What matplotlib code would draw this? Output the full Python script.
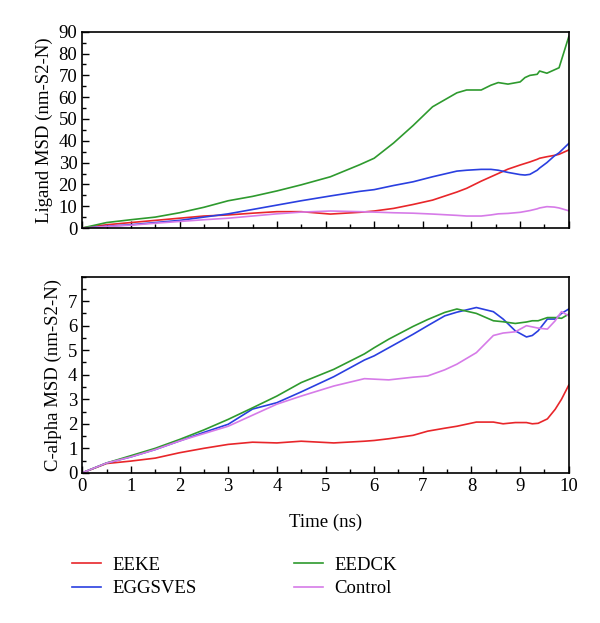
import matplotlib.pyplot as plt
from matplotlib.ticker import MultipleLocator

plt.rcParams['font.family'] = ['Liberation Serif', 'DejaVu Serif']

# Time points (ns)
t_top = [0, 0.5, 1, 1.5, 2, 2.5, 3, 3.5, 4, 4.5, 5.1, 5.7, 6.0, 6.4, 6.8, 7.2, 7.7, 7.9, 8.2, 8.4,
         8.55, 8.75, 9.0, 9.1, 9.2, 9.35, 9.4, 9.55, 9.7, 9.8, 10]

# Ligand MSD
lig_eeke = [0, 1.5, 2.5, 3.5, 4.5, 5.5, 6.0, 6.8, 7.5, 7.5, 6.4, 7.2, 7.8, 9.0, 10.8, 12.8, 16.5, 18.2, 21.5, 23.5,
            25, 27, 28.9, 29.6, 30.3, 31.5, 32, 32.7, 33.3, 33.8, 35.8]
lig_eggsves = [0, 0.8, 1.5, 2.5, 3.5, 5, 6.5, 8.5, 10.5, 12.5, 14.7, 16.8, 17.6, 19.5, 21.2, 23.5, 26.1, 26.5, 26.9, 26.9,
               26.5, 25.5, 24.5, 24.3, 24.6, 26.5, 27.5, 30, 33, 34.5, 38.8]
lig_eedck = [0, 2.5, 3.8, 5, 7, 9.5, 12.5, 14.5, 17, 19.8, 23.5, 29, 32, 39, 47, 55.6, 62, 63.3, 63.3, 65.5,
             66.7, 66, 67, 69, 70, 70.5, 72, 71, 72.5, 73.5, 87.8]
lig_control = [0, 0.7, 1.3, 2.2, 3, 3.8, 4.5, 5.5, 6.5, 7.3, 7.8, 7.5, 7.3, 7.0, 6.8, 6.4, 5.8, 5.5, 5.5, 6,
               6.5, 6.7, 7.2, 7.6, 8, 8.8, 9.2, 9.8, 9.6, 9.2, 7.9]

t_bot = [0, 0.5, 1, 1.5, 2, 2.5, 3, 3.5, 4, 4.5, 5.17, 5.8, 6.0, 6.3, 6.8, 7.1, 7.45, 7.7, 8.1, 8.45,
         8.65, 8.9, 9.13, 9.25, 9.37, 9.56, 9.72, 9.85, 10]

# C-alpha MSD
ca_eeke = [0, 0.38, 0.48, 0.6, 0.82, 1.0, 1.16, 1.25, 1.22, 1.29, 1.22, 1.29, 1.32, 1.39, 1.53, 1.7, 1.82, 1.9, 2.07, 2.07,
           2.0, 2.05, 2.05, 2.0, 2.02, 2.2, 2.59, 3.0, 3.58]
ca_eggsves = [0, 0.4, 0.65, 0.95, 1.3, 1.65, 1.98, 2.6, 2.86, 3.3, 3.92, 4.6, 4.77, 5.1, 5.65, 6.0, 6.4, 6.55, 6.74, 6.57,
              6.27, 5.79, 5.54, 5.6, 5.79, 6.27, 6.27, 6.5, 6.68]
ca_eedck = [0, 0.4, 0.7, 1.0, 1.36, 1.75, 2.18, 2.65, 3.13, 3.68, 4.22, 4.85, 5.1, 5.45, 5.97, 6.25, 6.54, 6.68, 6.5, 6.2,
            6.16, 6.09, 6.15, 6.2, 6.2, 6.33, 6.33, 6.3, 6.47]
ca_control = [0, 0.4, 0.65, 0.95, 1.3, 1.6, 1.9, 2.35, 2.8, 3.13, 3.54, 3.84, 3.82, 3.79, 3.9, 3.95, 4.2, 4.43, 4.9, 5.6,
              5.7, 5.75, 6.0, 5.95, 5.9, 5.86, 6.2, 6.57, 6.4]

labels = ['EEKE', 'EGGSVES', 'EEDCK', 'Control']
colors = ['#e8262a', '#2a3fe0', '#2e9a2e', '#d67be8']

fig = plt.figure(figsize=(6, 6.23), dpi=100)
ax1 = fig.add_axes([0.137, 0.634, 0.811, 0.315])
ax2 = fig.add_axes([0.137, 0.241, 0.811, 0.315])

lines = []
for ys, c, lab in zip([lig_eeke, lig_eggsves, lig_eedck, lig_control], colors, labels):
    ax1.plot(t_top, ys, color=c, lw=1.2, label=lab)
for ys, c, lab in zip([ca_eeke, ca_eggsves, ca_eedck, ca_control], colors, labels):
    l, = ax2.plot(t_bot, ys, color=c, lw=1.2, label=lab)
    lines.append(l)

ax1.set_xlim(0, 10)
ax1.set_ylim(0, 90)
ax1.yaxis.set_major_locator(MultipleLocator(10))
ax1.yaxis.set_minor_locator(MultipleLocator(5))
ax1.set_ylabel('Ligand MSD (nm-S2-N)', fontsize=13.5)
ax1.tick_params(labelbottom=False)

ax2.set_xlim(0, 10)
ax2.set_ylim(0, 8)
ax2.set_yticks(range(8))
ax2.yaxis.set_minor_locator(MultipleLocator(0.5))
ax2.set_ylabel('C-alpha MSD (nm-S2-N)', fontsize=13.5)
ax2.set_xlabel('Time (ns)', fontsize=13.5, labelpad=14)

for ax in (ax1, ax2):
    ax.xaxis.set_major_locator(MultipleLocator(1))
    ax.xaxis.set_minor_locator(MultipleLocator(0.5))
    ax.tick_params(which='both', direction='in', labelsize=13.5, width=1)
    ax.tick_params(which='major', length=5)
    ax.tick_params(which='minor', length=3)
    for s in ax.spines.values():
        s.set_linewidth(1.2)

fig.legend(lines, labels, ncol=2, loc='upper left', bbox_to_anchor=(0.092, 0.134),
           frameon=False, fontsize=13.5, handlelength=1.55, handletextpad=0.6,
           columnspacing=5.2, labelspacing=0.35)

fig.savefig('out.png', dpi=100)
